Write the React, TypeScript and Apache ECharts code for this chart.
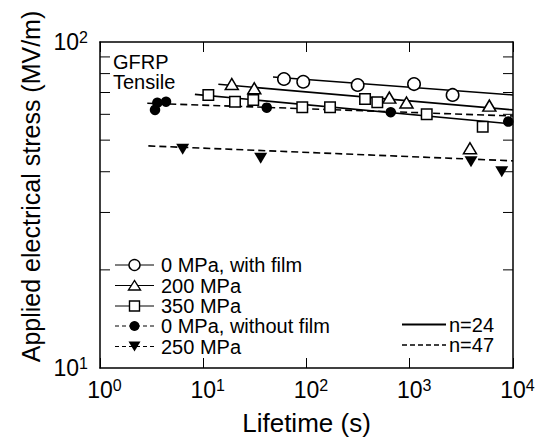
import React, { useEffect, useRef } from "react";
import * as echarts from "echarts";

// ---- data ----
const circleX = [60.5, 93, 313, 1100, 2600];
const circleY = [77.0, 75.5, 73.8, 74.3, 68.8];
const tri200X = [18.9, 31.2, 634, 930, 3830, 5900];
const tri200Y = [74.3, 72.1, 67.5, 65.2, 47.2, 63.8];
const sq350X = [11.2, 20.3, 30.5, 91, 169, 369, 485, 1460, 5090];
const sq350Y = [68.8, 65.6, 66.4, 63.1, 63.1, 66.9, 65.3, 60.0, 55.0];
const dotX = [3.41, 3.59, 4.36, 41.2, 654, 9000];
const dotY = [61.9, 65.1, 65.6, 62.9, 60.9, 57.0];
const tri250X = [6.32, 36.0, 3920, 7780];
const tri250Y = [46.9, 44.0, 42.9, 40.0];

// fitted lines (endpoints)
const circleFitX = [47.4, 10000];
const circleFitY = [78.1, 68.8];
const tri200FitX = [14.0, 10000];
const tri200FitY = [74.2, 61.9];
const sq350FitX = [8.3, 10000];
const sq350FitY = [69.1, 56.0];
const dotFitX = [2.87, 10000];
const dotFitY = [64.9, 59.3];
const tri250FitX = [2.94, 10000];
const tri250FitY = [48.0, 43.2];

// axis
const xMin = 1;
const xMax = 10000;
const yMin = 10;
const yMax = 100;
const yMinorTicks = [20, 30, 40, 50, 60, 70, 80, 90];

const legendLabels = [
  "0 MPa, with film",
  "200 MPa",
  "350 MPa",
  "0 MPa, without film",
  "250 MPa",
];
const fitLabels = ["n=24", "n=47"];

const FONT = "'Liberation Sans', Arial, Helvetica, sans-serif";

const zip = (xs: number[], ys: number[]) => xs.map((x, i) => [x, ys[i]]);

export default function App() {
  const ref = useRef<HTMLDivElement>(null);

  useEffect(() => {
    if (!ref.current) return;
    const chart = echarts.init(ref.current, null, { renderer: "svg" });

    const black = "#000";
    const fitLine = (name: string, xs: number[], ys: number[], dashed: boolean) => ({
      name,
      type: "line",
      data: zip(xs, ys),
      showSymbol: false,
      symbol: "none",
      silent: true,
      lineStyle: { color: black, width: 1.6, type: dashed ? [7, 4] : "solid", opacity: 1 },
      z: 2,
    });
    const pts = (name: string, xs: number[], ys: number[], extra: any) => ({
      name,
      type: "scatter",
      data: zip(xs, ys),
      silent: true,
      z: 3,
      ...extra,
    });

    const hollow = { color: "#fff", borderColor: black, borderWidth: 1.5, opacity: 1 };
    const filled = { color: black, borderColor: black, borderWidth: 0, opacity: 1 };

    const expLabel = (v: number) => Math.round(Math.log10(v));

    const legendRowsY = [265, 285.5, 306, 326, 346.5];
    const lx1 = 115, lx2 = 154, lmx = 134.5, ltx = 161;
    const legendGraphics: any[] = [];
    legendRowsY.forEach((y, i) => {
      const dashed = i >= 3;
      legendGraphics.push({
        type: "line",
        shape: { x1: lx1, y1: y, x2: lx2, y2: y },
        style: { stroke: black, lineWidth: 1, lineDash: dashed ? [4, 3] : null },
        z: 10,
      });
      let marker: any;
      if (i === 0) marker = { type: "circle", shape: { cx: lmx, cy: y, r: 5.5 }, style: { fill: "#fff", stroke: black, lineWidth: 1.4 } };
      if (i === 1) marker = { type: "polygon", shape: { points: [[lmx, y - 5], [lmx - 6, y + 4.5], [lmx + 6, y + 4.5]] }, style: { fill: "#fff", stroke: black, lineWidth: 1.4 } };
      if (i === 2) marker = { type: "rect", shape: { x: lmx - 5, y: y - 5, width: 10, height: 10 }, style: { fill: "#fff", stroke: black, lineWidth: 1.4 } };
      if (i === 3) marker = { type: "circle", shape: { cx: lmx, cy: y, r: 5 }, style: { fill: black } };
      if (i === 4) marker = { type: "polygon", shape: { points: [[lmx - 6, y - 5], [lmx + 6, y - 5], [lmx, y + 5]] }, style: { fill: black } };
      marker.z = 11;
      legendGraphics.push(marker);
      legendGraphics.push({
        type: "text",
        x: ltx,
        y,
        style: {
          text: legendLabels[i],
          font: `20px ${FONT}`,
          fill: black,
          textAlign: "left",
          textVerticalAlign: "middle",
          align: "left",
          verticalAlign: "middle",
        },
        z: 11,
      });
    });
    [324.5, 345].forEach((y, i) => {
      legendGraphics.push({
        type: "line",
        shape: { x1: 402, y1: y, x2: 446, y2: y },
        style: { stroke: black, lineWidth: i === 0 ? 2 : 1.6, lineDash: i === 1 ? [5, 3] : null },
        z: 10,
      });
      legendGraphics.push({
        type: "text",
        x: 449,
        y,
        style: {
          text: fitLabels[i],
          font: `20px ${FONT}`,
          fill: black,
          textAlign: "left",
          textVerticalAlign: "middle",
          align: "left",
          verticalAlign: "middle",
        },
        z: 11,
      });
    });

    const axisLineStyle = { show: true, onZero: false, lineStyle: { color: black, width: 1.5 } };
    const tickStyle = { show: true, inside: true, length: 10, lineStyle: { color: black, width: 1 } };

    const option: any = {
      animation: false,
      backgroundColor: "#fff",
      textStyle: { fontFamily: FONT },
      grid: { left: 100, top: 42, width: 413, height: 326, containLabel: false },
      xAxis: [
        {
          type: "log",
          logBase: 10,
          min: xMin,
          max: xMax,
          position: "bottom",
          axisLine: axisLineStyle,
          axisTick: tickStyle,
          splitLine: { show: false },
          name: "Lifetime (s)",
          nameLocation: "middle",
          nameGap: 42,
          nameTextStyle: { fontSize: 26, color: black, fontFamily: FONT },
          axisLabel: {
            margin: 9,
            color: black,
            formatter: (v: number) => `{sp|}{b|10}{s|${expLabel(v)}}`,
            rich: {
              sp: { width: 9 },
              b: { fontSize: 23, fontFamily: FONT, color: black, lineHeight: 26 },
              s: { fontSize: 16, fontFamily: FONT, color: black, verticalAlign: "top", lineHeight: 17 },
            },
          },
        },
        {
          type: "log",
          logBase: 10,
          min: xMin,
          max: xMax,
          position: "top",
          axisLine: axisLineStyle,
          axisTick: tickStyle,
          axisLabel: { show: false },
          splitLine: { show: false },
        },
      ],
      yAxis: [
        {
          type: "log",
          logBase: 10,
          min: yMin,
          max: yMax,
          position: "left",
          axisLine: axisLineStyle,
          axisTick: { show: false },
          splitLine: { show: false },
          axisLabel: {
            margin: 12,
            color: black,
            formatter: (v: number) => `{b|10}{s|${expLabel(v)}}`,
            rich: {
              b: { fontSize: 23, fontFamily: FONT, color: black, lineHeight: 26 },
              s: { fontSize: 16, fontFamily: FONT, color: black, verticalAlign: "top", lineHeight: 17 },
            },
          },
        },
        {
          type: "log",
          logBase: 10,
          min: yMin,
          max: yMax,
          position: "right",
          axisLine: axisLineStyle,
          axisTick: { show: false },
          axisLabel: { show: false },
          splitLine: { show: false },
        },
      ],
      series: [
        // minor y ticks (left and right frames)
        {
          name: "yTicksLeft",
          type: "scatter",
          silent: true,
          data: yMinorTicks.map((v) => [xMin, v]),
          symbol: "rect",
          symbolSize: [10, 1],
          symbolOffset: [5, 0],
          itemStyle: { color: black, opacity: 1 },
          z: 1,
        },
        {
          name: "yTicksRight",
          type: "scatter",
          silent: true,
          data: yMinorTicks.map((v) => [xMax, v]),
          symbol: "rect",
          symbolSize: [10, 1],
          symbolOffset: [-5, 0],
          itemStyle: { color: black, opacity: 1 },
          z: 1,
        },
        fitLine("fit0", circleFitX, circleFitY, false),
        fitLine("fit200", tri200FitX, tri200FitY, false),
        fitLine("fit350", sq350FitX, sq350FitY, false),
        fitLine("fitNoFilm", dotFitX, dotFitY, true),
        fitLine("fit250", tri250FitX, tri250FitY, true),
        pts("0 MPa, with film", circleX, circleY, { symbol: "circle", symbolSize: 12.5, itemStyle: hollow }),
        pts("200 MPa", tri200X, tri200Y, { symbol: "triangle", symbolSize: [13, 11], itemStyle: hollow }),
        pts("350 MPa", sq350X, sq350Y, { symbol: "rect", symbolSize: 10.5, itemStyle: hollow }),
        pts("0 MPa, without film", dotX, dotY, { symbol: "circle", symbolSize: 10.5, itemStyle: filled }),
        pts("250 MPa", tri250X, tri250Y, { symbol: "triangle", symbolRotate: 180, symbolSize: [13, 11], itemStyle: filled }),
      ],
      graphic: [
        {
          type: "text",
          x: 31,
          y: 186.5,
          rotation: Math.PI / 2,
          style: {
            text: "Applied electrical stress (MV/m)",
            font: `25px ${FONT}`,
            fill: black,
            textAlign: "center",
            textVerticalAlign: "middle",
            align: "center",
            verticalAlign: "middle",
          },
        },
        {
          type: "text",
          x: 113,
          y: 62,
          style: { text: "GFRP", font: `20px ${FONT}`, fill: black, textVerticalAlign: "middle", verticalAlign: "middle" },
        },
        {
          type: "text",
          x: 113,
          y: 82,
          style: { text: "Tensile", font: `20px ${FONT}`, fill: black, textVerticalAlign: "middle", verticalAlign: "middle" },
        },
        ...legendGraphics,
      ],
    };

    chart.setOption(option);
    return () => chart.dispose();
  }, []);

  return <div ref={ref} style={{ width: 547, height: 441, position: "absolute", left: 0, top: 0 }} />;
}
